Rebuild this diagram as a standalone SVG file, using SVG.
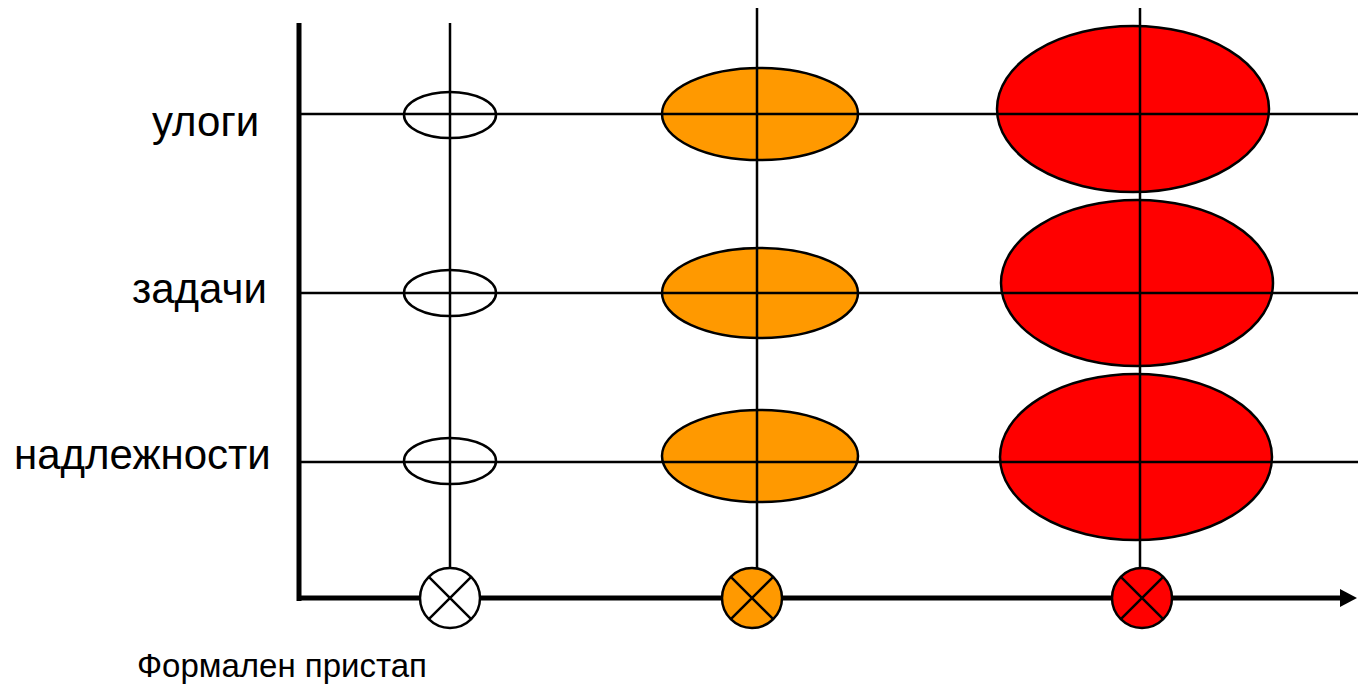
<svg xmlns="http://www.w3.org/2000/svg" width="1358" height="686" viewBox="0 0 1358 686">
<style>
.ln{stroke:#000;stroke-width:2.5;fill:none}
.ax{stroke:#000;stroke-width:5;fill:none}
.sh{stroke:#000;stroke-width:2.5}
.n{fill:none}.w{fill:#fff}.o{fill:#ff9900}.r{fill:#ff0000}
.lbl{font-family:"Liberation Sans",Arial,sans-serif;font-size:42px;fill:#000}
.cap{font-family:"Liberation Sans",Arial,sans-serif;font-size:33px;fill:#000}
</style>
<g id="ellipses-formal">
<ellipse class="sh n" cx="450" cy="115" rx="46" ry="23"/>
<ellipse class="sh n" cx="450" cy="293" rx="46" ry="23"/>
<ellipse class="sh n" cx="450" cy="461" rx="46" ry="23"/>
</g>
<g id="ellipses-mid">
<ellipse class="sh o" cx="760" cy="114" rx="98" ry="46"/>
<ellipse class="sh o" cx="760" cy="293" rx="98" ry="45"/>
<ellipse class="sh o" cx="760" cy="456" rx="98" ry="46"/>
</g>
<g id="ellipses-high">
<ellipse class="sh r" cx="1133" cy="109" rx="136" ry="83"/>
<ellipse class="sh r" cx="1137" cy="283" rx="136" ry="83"/>
<ellipse class="sh r" cx="1136" cy="457" rx="136" ry="83"/>
</g>
<g id="connectors">
<line class="ln" x1="300" y1="114" x2="1358" y2="114"/>
<line class="ln" x1="300" y1="293" x2="1358" y2="293"/>
<line class="ln" x1="300" y1="462" x2="1358" y2="462"/>
<line class="ln" x1="450" y1="23" x2="450" y2="568"/>
<line class="ln" x1="757" y1="8" x2="757" y2="568"/>
<line class="ln" x1="1140" y1="8" x2="1140" y2="568"/>
<line class="ax" x1="299" y1="23" x2="299" y2="601"/>
<line class="ax" x1="297" y1="598" x2="1342" y2="598"/>
<polygon points="1340,589 1357,598 1340,607" fill="#000"/>
</g>
<g id="marker-1">
<circle class="sh w" cx="450" cy="598" r="30"/>
<path class="ln" d="M428.8,576.8 L471.2,619.2 M471.2,576.8 L428.8,619.2"/>
</g>
<g id="marker-2">
<circle class="sh o" cx="752" cy="598" r="30"/>
<path class="ln" d="M730.8,576.8 L773.2,619.2 M773.2,576.8 L730.8,619.2"/>
</g>
<g id="marker-3">
<circle class="sh r" cx="1142" cy="598" r="30"/>
<path class="ln" d="M1120.8,576.8 L1163.2,619.2 M1163.2,576.8 L1120.8,619.2"/>
</g>
<g id="labels">
<text class="lbl" x="152" y="136">улоги</text>
<text class="lbl" x="132" y="303">задачи</text>
<text class="lbl" x="14" y="469">надлежности</text>
<text class="cap" x="137" y="677">Формален пристап</text>
</g>
</svg>
